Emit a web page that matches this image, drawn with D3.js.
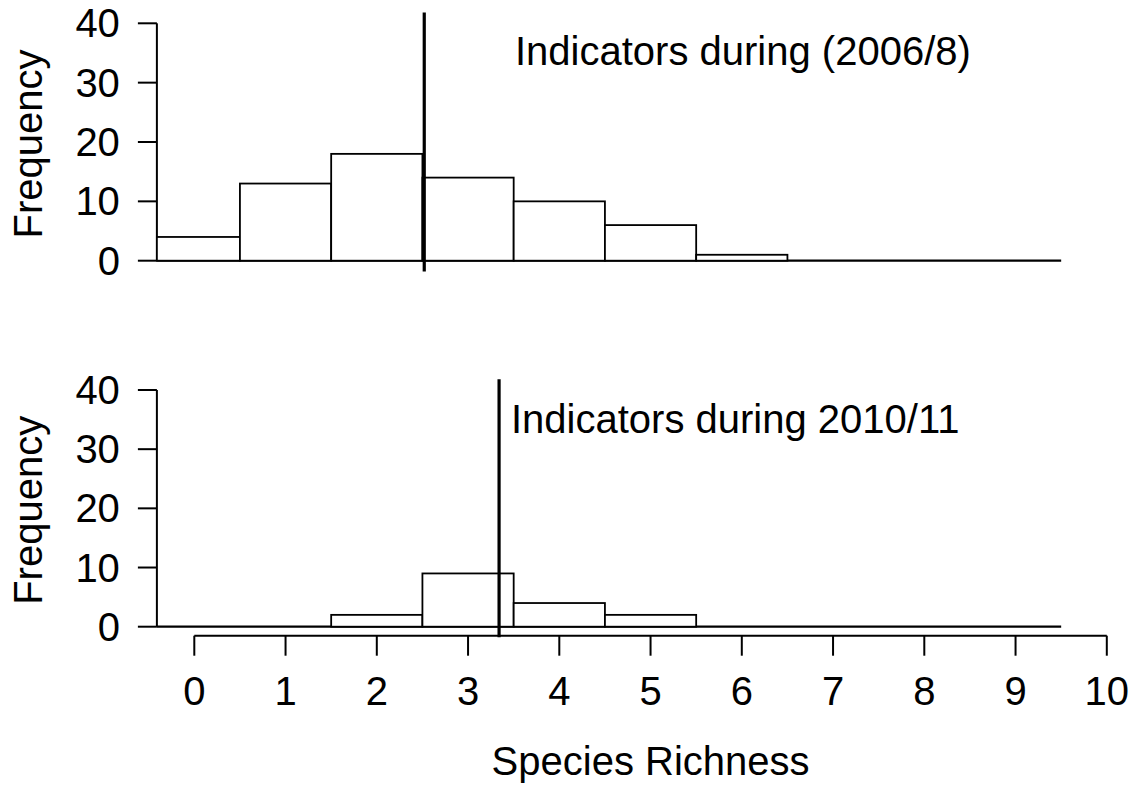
<!DOCTYPE html>
<html lang="en">
<head>
    <meta charset="UTF-8">
    <title>Species Richness</title>
    <script src="https://d3js.org/d3.v7.min.js"></script>
    <style>
        body { margin: 0; background: white; }
        text { font-family: "Liberation Sans", Arial, sans-serif; fill: black; }
    </style>
</head>
<body>
<div style="width: 1137px;height: 789px" id="figure">

</div>
<script>

    let figure = document.getElementById("figure");
    let w = figure.clientWidth;
    let h = figure.clientHeight;

    // histogram bin edges (species richness) and counts
    let binEdges = [-0.41, 0.5, 1.5, 2.5, 3.5, 4.5, 5.5, 6.5, 7.5, 8.5, 9.5];
    let counts0608 = [4, 13, 18, 14, 10, 6, 1, 0, 0, 0];
    let counts1011 = [0, 0, 2, 9, 4, 2, 0, 0, 0, 0];
    let mean0608 = 2.52;
    let mean1011 = 3.34;
    let yTicks = [0, 10, 20, 30, 40];
    let xTicks = [0, 1, 2, 3, 4, 5, 6, 7, 8, 9, 10];
    let titles = ["Indicators during (2006/8)", "Indicators during 2010/11"];

    let fontSize = 40;

    let svg = d3.select(figure).append("svg")
        .attr('width', w)
        .attr('height', h);

    let xScale = d3.scaleLinear()
        .domain([0, 10])
        .range([194.3, 1106.8]);

    let panels = [
        {counts: counts0608, mean: mean0608, title: titles[0], y0: 260.7, y40: 23.3, tx: 515, ty: 65},
        {counts: counts1011, mean: mean1011, title: titles[1], y0: 626.7, y40: 390, tx: 511, ty: 433}
    ];

    let axisX = xScale(binEdges[0]);

    panels.forEach(function (p) {
        let g = svg.append('g');
        let yScale = d3.scaleLinear()
            .domain([0, 40])
            .range([p.y0, p.y40]);

        // y axis
        g.append('line')
            .style('stroke', 'black').style('stroke-width', 2)
            .attr('x1', axisX).attr('x2', axisX)
            .attr('y1', yScale(0)).attr('y2', yScale(40));
        g.selectAll('.ytick').data(yTicks).enter().append('line')
            .style('stroke', 'black').style('stroke-width', 2)
            .attr('x1', axisX - 19).attr('x2', axisX)
            .attr('y1', d => yScale(d)).attr('y2', d => yScale(d));
        g.selectAll('.ylab').data(yTicks).enter().append('text')
            .attr('x', axisX - 37)
            .attr('y', d => yScale(d) + 14)
            .attr('text-anchor', 'end')
            .style('font-size', fontSize + 'px')
            .text(d => d);

        // y title
        let cy = (yScale(0) + yScale(40)) / 2 + 2;
        g.append('text')
            .attr('transform', 'translate(42,' + cy + ') rotate(-90)')
            .attr('text-anchor', 'middle')
            .style('font-size', fontSize + 'px')
            .text('Frequency');

        // baseline under all bins
        g.append('line')
            .style('stroke', 'black').style('stroke-width', 2.2)
            .attr('x1', xScale(binEdges[0])).attr('x2', xScale(binEdges[binEdges.length - 1]))
            .attr('y1', yScale(0)).attr('y2', yScale(0));

        // bars
        let bins = p.counts.map(function (c, i) {
            return {x0: binEdges[i], x1: binEdges[i + 1], n: c};
        }).filter(d => d.n > 0);
        g.selectAll('.bar').data(bins).enter().append('rect')
            .attr('x', d => xScale(d.x0))
            .attr('width', d => xScale(d.x1) - xScale(d.x0))
            .attr('y', d => yScale(d.n))
            .attr('height', d => yScale(0) - yScale(d.n))
            .style('fill', 'white')
            .style('stroke', 'black')
            .style('stroke-width', 1.8);

        // mean line
        g.append('line')
            .style('stroke', 'black').style('stroke-width', 3.2)
            .attr('x1', xScale(p.mean)).attr('x2', xScale(p.mean))
            .attr('y1', yScale(-1.8)).attr('y2', yScale(41.8));

        g.append('text')
            .attr('x', p.tx).attr('y', p.ty)
            .style('font-size', fontSize + 'px')
            .text(p.title);
    });

    // bottom x axis
    let xAxisY = 635.7;
    svg.append('line')
        .style('stroke', 'black').style('stroke-width', 2)
        .attr('x1', xScale(0)).attr('x2', xScale(10))
        .attr('y1', xAxisY).attr('y2', xAxisY);
    svg.selectAll('.xtick').data(xTicks).enter().append('line')
        .style('stroke', 'black').style('stroke-width', 2)
        .attr('x1', d => xScale(d)).attr('x2', d => xScale(d))
        .attr('y1', xAxisY).attr('y2', xAxisY + 20);
    svg.selectAll('.xlab').data(xTicks).enter().append('text')
        .attr('x', d => xScale(d))
        .attr('y', 705)
        .attr('text-anchor', 'middle')
        .style('font-size', fontSize + 'px')
        .text(d => d);

    svg.append('text')
        .attr('x', xScale(5))
        .attr('y', 775)
        .attr('text-anchor', 'middle')
        .style('font-size', fontSize + 'px')
        .text('Species Richness');

</script>
</body>
</html>
